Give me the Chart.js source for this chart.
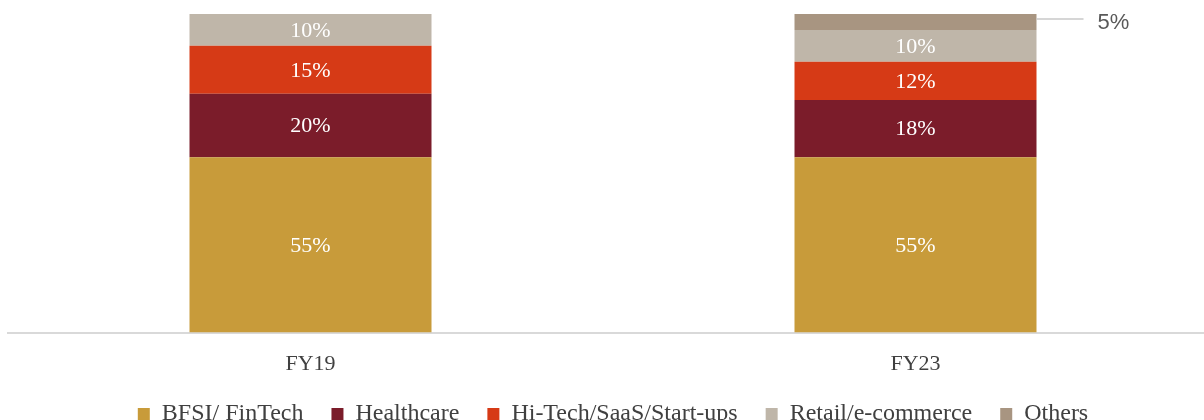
<!DOCTYPE html>
<html>
<head>
<meta charset="utf-8">
<script src="https://cdn.jsdelivr.net/npm/chart.js@4"></script>
<style>
  html, body { margin: 0; padding: 0; background: #fff; overflow: hidden; }
  #wrap { position: absolute; left: 0; top: 0; width: 1220px; height: 436px; }
</style>
</head>
<body>
<div id="wrap"><canvas id="chart"></canvas></div>
<script>
var categories = ["FY19", "FY23"];
var bfsi = [55, 55];
var healthcare = [20, 18];
var hitech = [15, 12];
var retail = [10, 10];
var others = [0, 5];

var seriesNames = ["BFSI/ FinTech", "Healthcare", "Hi-Tech/SaaS/Start-ups", "Retail/e-commerce", "Others"];
var seriesColors = ["#C89B3A", "#7B1C2A", "#D63A16", "#BFB6A9", "#A89581"];

var serif = "'Liberation Serif', 'Times New Roman', serif";

document.addEventListener("DOMContentLoaded", function() {
  var ctx = document.getElementById("chart").getContext("2d");

  // labels inside the segments, and the callout for the small "Others" slice
  var segmentLabels = {
    id: "segmentLabels",
    afterDatasetsDraw: function(chart) {
      var c = chart.ctx;
      c.save();
      chart.data.datasets.forEach(function(ds, di) {
        var meta = chart.getDatasetMeta(di);
        meta.data.forEach(function(bar, i) {
          var v = ds.data[i];
          if (!v) return;
          var mid = (bar.y + bar.base) / 2;
          if (v < 8) {
            var right = bar.x + bar.width / 2;
            c.strokeStyle = "#c8c8c8";
            c.lineWidth = 1.5;
            c.beginPath();
            c.moveTo(right, mid - 3);
            c.lineTo(right + 47, mid - 3);
            c.stroke();
            c.fillStyle = "#595959";
            c.font = "22px 'Liberation Sans', Arial, sans-serif";
            c.textAlign = "left";
            c.textBaseline = "middle";
            c.fillText(v + "%", right + 61, mid + 1);
            return;
          }
          c.fillStyle = "#ffffff";
          c.font = "22px " + serif;
          c.textAlign = "center";
          c.textBaseline = "middle";
          c.fillText(v + "%", bar.x, mid + 1);
        });
      });
      c.restore();
    }
  };

  var datasets = [bfsi, healthcare, hitech, retail, others].map(function(d, i) {
    return {
      label: seriesNames[i],
      data: d,
      backgroundColor: seriesColors[i],
      borderWidth: 0,
      barPercentage: 0.4,
      categoryPercentage: 1.0
    };
  });

  new Chart(ctx, {
    type: "bar",
    data: { labels: categories, datasets: datasets },
    options: {
      responsive: true,
      maintainAspectRatio: false,
      animation: false,
      layout: { padding: { top: 14, left: 8, right: 2, bottom: 0 } },
      plugins: {
        tooltip: { enabled: false },
        legend: {
          position: "bottom",
          labels: {
            boxWidth: 12,
            boxHeight: 12,
            padding: 28,
            color: "#404040",
            font: { family: serif, size: 24 }
          }
        }
      },
      scales: {
        x: {
          stacked: true,
          grid: { display: false },
          border: { display: true, color: "#d9d9d9", width: 2 },
          ticks: { color: "#404040", padding: 10, font: { family: serif, size: 22 } },
          afterFit: function(scale) { scale.height -= 13; }
        },
        y: {
          stacked: true,
          display: false,
          min: 0,
          max: 100
        }
      }
    },
    plugins: [segmentLabels]
  });
});
</script>
</body>
</html>
